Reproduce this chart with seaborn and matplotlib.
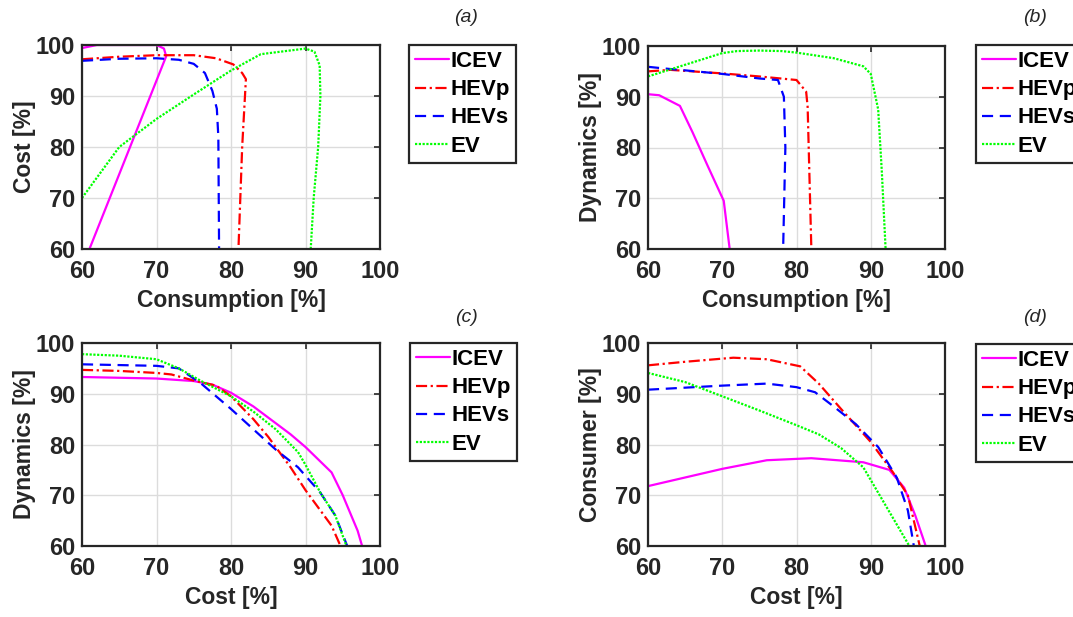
import numpy as np
import pandas as pd
import matplotlib
matplotlib.use("Agg")
import matplotlib.pyplot as plt
import seaborn as sns

sns.set_theme(style="white")
plt.rcParams['font.family'] = ['Liberation Sans', 'DejaVu Sans']
plt.rcParams['font.weight'] = 'bold'

# ---------------- data ----------------
series = ["ICEV", "HEVp", "HEVs", "EV"]

# (a) Consumption vs Cost
a_icev_x = [60, 62, 66, 70, 71.0, 71.3, 61.0]
a_icev_y = [99.4, 100, 100, 100, 99.3, 97.8, 60]
a_hevp_x = [60, 65, 70, 75, 78, 80.3, 81.5, 82.0, 81.5, 81.0]
a_hevp_y = [97.2, 97.7, 98.0, 98.0, 97.4, 96.2, 94.5, 93.3, 80, 60]
a_hevs_x = [60, 65, 70, 73, 75, 76.5, 77.5, 78.1, 78.3, 78.4]
a_hevs_y = [96.9, 97.3, 97.4, 97.1, 96.3, 94.5, 91.0, 87.5, 82.0, 60]
a_ev_x = [60, 65, 70, 75, 80, 84, 90, 91.2, 91.9, 92.0, 91.7, 91.1, 90.7]
a_ev_y = [70, 80, 85.5, 90.3, 95.0, 98.2, 99.3, 98.7, 96.0, 90, 80, 70, 60]

# (b) Consumption vs Dynamics
b_icev_x = [60, 61.5, 64.3, 66, 68, 70.2, 71.0]
b_icev_y = [90.5, 90.3, 88.2, 83, 76.5, 69.5, 60]
b_hevp_x = [60, 63, 70, 75, 80, 81.3, 81.5, 82.0]
b_hevp_y = [95.0, 95.3, 94.6, 94.0, 93.3, 91.0, 88, 60]
b_hevs_x = [60, 62, 65, 70, 75, 77.5, 78.3, 78.5, 78.2]
b_hevs_y = [95.9, 95.6, 95.2, 94.5, 93.6, 93.3, 90, 80, 60]
b_ev_x = [60, 65, 70, 72, 75, 78, 80, 85, 89, 90, 91, 91.5, 92.0]
b_ev_y = [94.0, 96.3, 98.6, 99.0, 99.1, 99.0, 98.7, 97.6, 96.0, 94.5, 87.5, 75, 60]

# (c) Cost vs Dynamics
c_icev_x = [60, 70, 75, 77.5, 80, 83, 88, 90, 93.5, 95, 97, 97.6]
c_icev_y = [93.3, 93.0, 92.5, 91.8, 90.2, 87.5, 82, 79.5, 74.5, 70, 63, 60]
c_hevp_x = [60, 65, 70, 72, 75, 78, 80, 83, 85, 88, 90, 93.5, 94.7]
c_hevp_y = [94.7, 94.5, 94.1, 93.8, 92.6, 91.6, 89.5, 85, 81.5, 75.5, 71, 64, 60]
c_hevs_x = [60, 70, 73, 76, 80, 83, 86, 89, 92, 94, 95.6]
c_hevs_y = [95.8, 95.5, 95.0, 92.0, 87.0, 83.0, 79.0, 75.5, 70.5, 66, 60]
c_ev_x = [60, 65, 70, 73, 76, 78, 80, 83, 86, 89, 90, 92, 94, 95.5]
c_ev_y = [97.8, 97.5, 96.8, 95.0, 92.5, 91.0, 89.5, 86.5, 83, 78.5, 76, 70.5, 66, 60]

# (d) Cost vs Consumer
d_icev_x = [60, 70, 76, 82, 89, 92.5, 94.5, 96, 97.4]
d_icev_y = [71.8, 75.2, 76.9, 77.3, 76.5, 75.0, 71.5, 66, 60]
d_hevp_x = [60, 65, 71.5, 76, 80.5, 83, 86, 90, 93, 95, 96.6]
d_hevp_y = [95.6, 96.3, 97.1, 96.8, 95.4, 92, 87, 80.5, 74.5, 70, 60]
d_hevs_x = [60, 65, 70, 76, 80, 82.5, 85, 88, 91, 93.5, 95, 95.8]
d_hevs_y = [90.8, 91.2, 91.6, 92.0, 91.3, 90.3, 87.5, 84, 79.5, 73.5, 67, 60]
d_ev_x = [60, 65, 70, 75, 80, 83, 86, 89, 91, 93, 95.2]
d_ev_y = [94.1, 92.3, 89.5, 86.7, 83.8, 82, 79.3, 75.5, 70.5, 65.5, 60]

ticks = [60, 70, 80, 90, 100]

panels = [
    dict(tag="(a)", xlabel="Consumption [%]", ylabel="Cost [%]",
         data=[(a_icev_x, a_icev_y), (a_hevp_x, a_hevp_y), (a_hevs_x, a_hevs_y), (a_ev_x, a_ev_y)],
         box=(82, 45, 380, 249), leg=(409, 45), lab=(466, 18)),
    dict(tag="(b)", xlabel="Consumption [%]", ylabel="Dynamics [%]",
         data=[(b_icev_x, b_icev_y), (b_hevp_x, b_hevp_y), (b_hevs_x, b_hevs_y), (b_ev_x, b_ev_y)],
         box=(648, 46, 945, 249), leg=(976, 45), lab=(1035, 18)),
    dict(tag="(c)", xlabel="Cost [%]", ylabel="Dynamics [%]",
         data=[(c_icev_x, c_icev_y), (c_hevp_x, c_hevp_y), (c_hevs_x, c_hevs_y), (c_ev_x, c_ev_y)],
         box=(82, 343, 380, 546), leg=(410, 343), lab=(466, 318)),
    dict(tag="(d)", xlabel="Cost [%]", ylabel="Consumer [%]",
         data=[(d_icev_x, d_icev_y), (d_hevp_x, d_hevp_y), (d_hevs_x, d_hevs_y), (d_ev_x, d_ev_y)],
         box=(648, 343, 945, 546), leg=(976, 344), lab=(1035, 318)),
]

colors = {"ICEV": "#ff00ff", "HEVp": "#ff0000", "HEVs": "#0000ff", "EV": "#00ff00"}
styles = {"ICEV": "-", "HEVp": (0, (5, 1.6, 1, 1.6)), "HEVs": (0, (5, 3)), "EV": (0, (1, 0.7))}

W, H = 1073, 617
fig = plt.figure(figsize=(W / 100, H / 100), dpi=100)
txt = "#262626"

for p in panels:
    l, t, r, b = p["box"]
    ax = fig.add_axes([l / W, 1 - b / H, (r - l) / W, (b - t) / H])
    for name, (xs, ys) in zip(series, p["data"]):
        df = pd.DataFrame({"x": xs, "y": ys})
        sns.lineplot(data=df, x="x", y="y", ax=ax, sort=False, estimator=None,
                     color=colors[name], linestyle=styles[name], linewidth=1.6,
                     label=name)
    ax.set_xlim(60, 100)
    ax.set_ylim(60, 100)
    ax.set_xticks(ticks)
    ax.set_yticks(ticks)
    ax.grid(True, color="#dcdcdc", linewidth=1.0)
    ax.set_axisbelow(True)
    for s in ax.spines.values():
        s.set_color("#262626")
        s.set_linewidth(1.6)
        s.set_visible(True)
    ax.tick_params(direction="in", length=4, width=1.2, color="#262626",
                   top=True, right=True, labelsize=17, labelcolor=txt)
    ax.tick_params(axis="x", pad=8)
    ax.tick_params(axis="y", pad=5)
    for lb in ax.get_xticklabels() + ax.get_yticklabels():
        lb.set_fontweight("bold")
    ax.set_xlabel(p["xlabel"], fontsize=16.5, fontweight="bold", color=txt, labelpad=4)
    ax.set_ylabel(p["ylabel"], fontsize=16.5, fontweight="bold", color=txt, labelpad=0)
    ax.get_legend().remove()
    handles, labels = ax.get_legend_handles_labels()
    lx, ly = p["leg"]
    leg = fig.legend(handles, labels, loc="upper left",
                     bbox_to_anchor=(lx / W, 1 - ly / H),
                     prop={"weight": "bold", "size": 16}, frameon=True,
                     fancybox=False, edgecolor="#262626", framealpha=1,
                     handlelength=1.5, handletextpad=0.1, labelspacing=0.32,
                     borderpad=0.28, borderaxespad=0)
    leg.get_frame().set_linewidth(1.6)
    for tx in leg.get_texts():
        tx.set_color("black")
    lx2, ly2 = p["lab"]
    fig.text(lx2 / W, 1 - ly2 / H, p["tag"], fontsize=14, style="italic",
             fontweight="normal", color=txt, ha="center", va="center")

fig.savefig("out.png", dpi=100)
